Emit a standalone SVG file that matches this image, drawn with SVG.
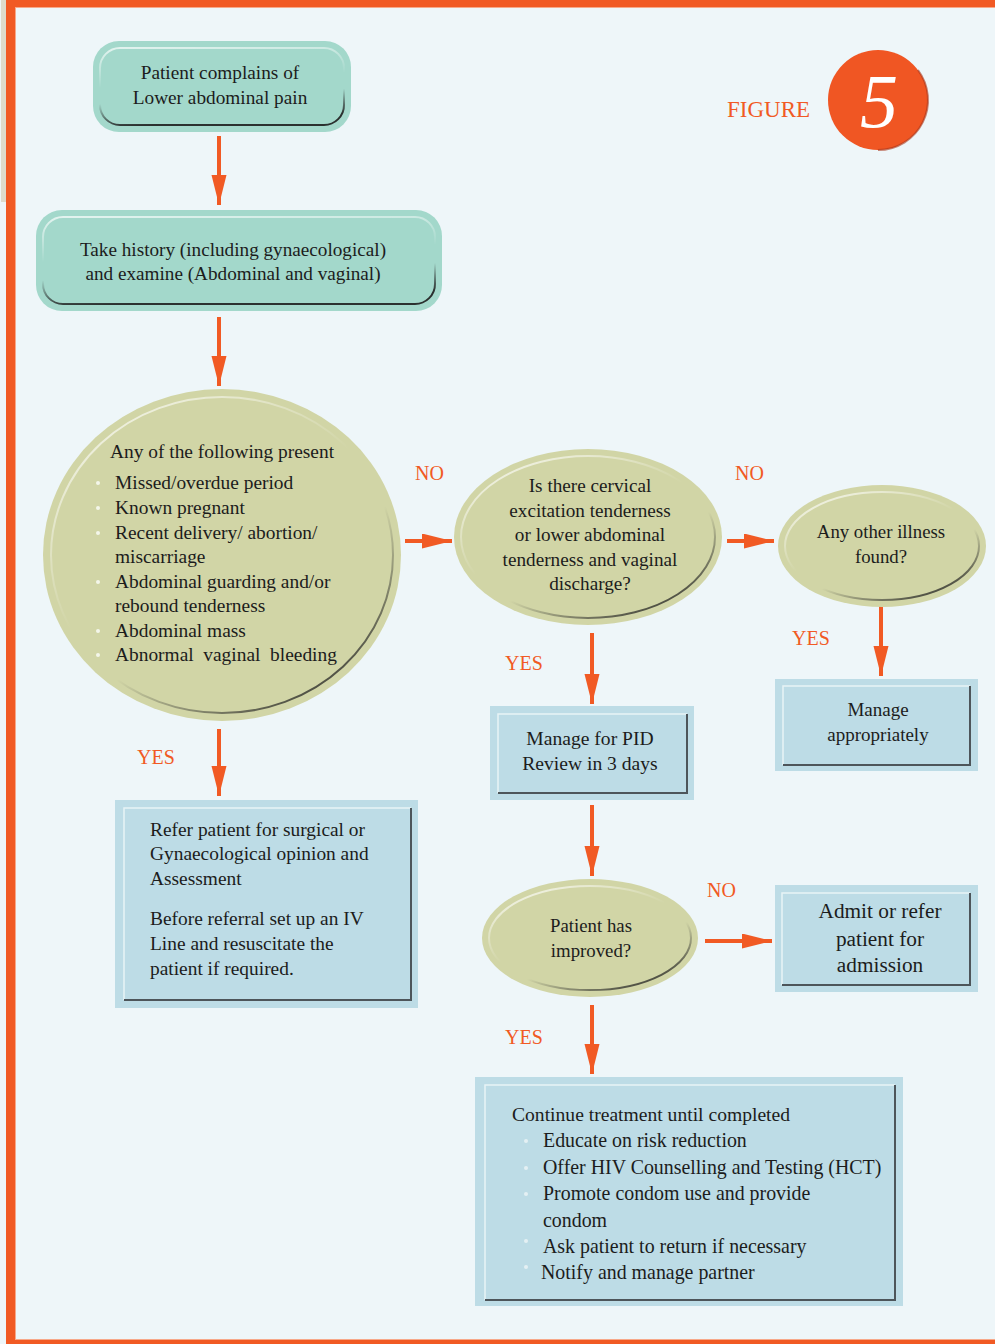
<svg xmlns="http://www.w3.org/2000/svg" width="995" height="1344" viewBox="0 0 995 1344">
  <defs>
    <style>
      .txt { font-family: "Liberation Serif", "Times New Roman", serif; fill: #1c1c1c; }
      .lbl { font-family: "Liberation Serif", "Times New Roman", serif; fill: #f15a24; font-size: 20px; }
      .teal { fill: #a3d8cb; }
      .olive { fill: #d1d5a6; }
      .box { fill: #bddce6; }
      .edge-lt { stroke: #e8f3f6; stroke-width: 1.5; fill: none; }
      .edge-dk { stroke: #4d555a; stroke-width: 2; fill: none; }
      .conn line { stroke: #f15a24; stroke-width: 4; marker-end: url(#head); }
      .dot { fill: #f4f6ea; }
      .dot2 { fill: #e4f0f4; }
      .pre { white-space: pre; }
    </style>
    <linearGradient id="bevel" x1="0.15" y1="0" x2="0.85" y2="1">
      <stop offset="0" stop-color="#ffffff" stop-opacity="0.75"/>
      <stop offset="0.45" stop-color="#ffffff" stop-opacity="0"/>
      <stop offset="0.62" stop-color="#2a2a2a" stop-opacity="0"/>
      <stop offset="1" stop-color="#1e1e1e" stop-opacity="0.95"/>
    </linearGradient>
    <linearGradient id="bevelRect" x1="0" y1="0" x2="0.2" y2="1">
      <stop offset="0" stop-color="#ffffff" stop-opacity="0.7"/>
      <stop offset="0.5" stop-color="#ffffff" stop-opacity="0"/>
      <stop offset="0.7" stop-color="#2a2a2a" stop-opacity="0"/>
      <stop offset="1" stop-color="#1e1e1e" stop-opacity="0.9"/>
    </linearGradient>
    <marker id="head" markerUnits="userSpaceOnUse" markerWidth="32" markerHeight="16" refX="30" refY="7.5" orient="auto">
      <path d="M0,0 L30,7.5 L0,15 z" fill="#f15a24"/>
    </marker>
  </defs>

  <!-- page frame -->
  <rect x="0" y="0" width="995" height="1344" fill="#eef6f9"/>
  <rect x="1" y="0" width="5" height="202" fill="#dedbcb"/>
  <rect x="6" y="0" width="989" height="7" fill="#f15a24"/>
  <rect x="6" y="0" width="9" height="1344" fill="#f15a24"/>
  <rect x="6" y="1340" width="989" height="4" fill="#f15a24"/>
  <line x1="15" y1="7.5" x2="995" y2="7.5" stroke="#f7a98a" stroke-width="1"/>
  <line x1="15.5" y1="7" x2="15.5" y2="1340" stroke="#f7a98a" stroke-width="1"/>
  <line x1="15" y1="1339.5" x2="995" y2="1339.5" stroke="#f7a98a" stroke-width="1"/>

  <!-- title badge -->
  <g id="figure-badge">
    <text x="727" y="117" font-family="Liberation Serif, serif" font-size="23" fill="#f15a24">FIGURE</text>
    <circle cx="878" cy="100" r="50" fill="#f05623"/>
    <path d="M918,70 A50,50 0 0 1 878,150" fill="none" stroke="#a8361a" stroke-width="2" opacity="0.6"/>
    <text x="879" y="127" text-anchor="middle" font-family="Liberation Serif, serif" font-style="italic" font-size="76" fill="#ffffff">5</text>
  </g>

  <!-- connectors -->
  <g id="connectors" class="conn">
    <line x1="219" y1="136" x2="219" y2="205"/>
    <line x1="219" y1="317" x2="219" y2="386"/>
    <line x1="219" y1="729" x2="219" y2="796"/>
    <line x1="405" y1="541" x2="452" y2="541"/>
    <line x1="727" y1="541" x2="774" y2="541"/>
    <line x1="881" y1="605" x2="881" y2="676"/>
    <line x1="592" y1="633" x2="592" y2="704"/>
    <line x1="592" y1="805" x2="592" y2="876"/>
    <line x1="705" y1="941" x2="772" y2="941"/>
    <line x1="592" y1="1005" x2="592" y2="1074"/>
  </g>

  <!-- branch labels -->
  <g id="labels">
    <text class="lbl" x="415" y="480">NO</text>
    <text class="lbl" x="735" y="480">NO</text>
    <text class="lbl" x="792" y="645">YES</text>
    <text class="lbl" x="505" y="670">YES</text>
    <text class="lbl" x="137" y="764">YES</text>
    <text class="lbl" x="707" y="897">NO</text>
    <text class="lbl" x="505" y="1044">YES</text>
  </g>

  <!-- start -->
  <g id="start">
    <rect class="teal" x="93" y="41" width="258" height="91" rx="26"/>
    <rect x="100" y="48" width="244" height="77" rx="20" fill="none" stroke="url(#bevelRect)" stroke-width="2"/>
    <text class="txt" font-size="19.3" text-anchor="middle" x="220" y="79">Patient complains of</text>
    <text class="txt" font-size="19.3" text-anchor="middle" x="220" y="104">Lower abdominal pain</text>
  </g>

  <!-- history -->
  <g id="history">
    <rect class="teal" x="36" y="210" width="406" height="101" rx="26"/>
    <rect x="43" y="217" width="392" height="87" rx="20" fill="none" stroke="url(#bevelRect)" stroke-width="2"/>
    <text class="txt" font-size="19.2" text-anchor="middle" x="233" y="256">Take history (including gynaecological)</text>
    <text class="txt" font-size="19.2" text-anchor="middle" x="233" y="280">and examine (Abdominal and vaginal)</text>
  </g>

  <!-- danger signs -->
  <g id="danger-signs">
    <ellipse class="olive" cx="222" cy="555" rx="179" ry="166"/>
    <ellipse cx="222" cy="555" rx="171" ry="158" fill="none" stroke="url(#bevel)" stroke-width="2"/>
    <text class="txt" font-size="19.4" x="110" y="458">Any of the following present</text>
    <circle class="dot" cx="98" cy="483" r="2"/>
    <circle class="dot" cx="98" cy="508" r="2"/>
    <circle class="dot" cx="98" cy="533" r="2"/>
    <circle class="dot" cx="98" cy="582" r="2"/>
    <circle class="dot" cx="98" cy="631" r="2"/>
    <circle class="dot" cx="98" cy="655" r="2"/>
    <text class="txt" font-size="19.4" x="115" y="489">Missed/overdue period</text>
    <text class="txt" font-size="19.4" x="115" y="514">Known pregnant</text>
    <text class="txt" font-size="19.4" x="115" y="539">Recent delivery/ abortion/</text>
    <text class="txt" font-size="19.4" x="115" y="563">miscarriage</text>
    <text class="txt" font-size="19.4" x="115" y="588">Abdominal guarding and/or</text>
    <text class="txt" font-size="19.4" x="115" y="612">rebound tenderness</text>
    <text class="txt" font-size="19.4" x="115" y="637">Abdominal mass</text>
    <text class="txt pre" font-size="19.4" x="115" y="661">Abnormal  vaginal  bleeding</text>
  </g>

  <!-- referral -->
  <g id="refer">
    <rect class="box" x="115" y="800" width="303" height="208"/>
    <polyline class="edge-lt" points="124,1000 124,808 411,808"/>
    <polyline class="edge-dk" points="124,1000 411,1000 411,808"/>
    <text class="txt" font-size="19.4" x="150" y="836">Refer patient for surgical or</text>
    <text class="txt" font-size="19.4" x="150" y="860">Gynaecological opinion and</text>
    <text class="txt" font-size="19.4" x="150" y="885">Assessment</text>
    <text class="txt" font-size="19.4" x="150" y="925">Before referral set up an IV</text>
    <text class="txt" font-size="19.4" x="150" y="950">Line and resuscitate the</text>
    <text class="txt" font-size="19.4" x="150" y="975">patient if required.</text>
  </g>

  <!-- PID question -->
  <g id="pid-question">
    <ellipse class="olive" cx="588" cy="537" rx="134" ry="88"/>
    <ellipse cx="588" cy="537" rx="127" ry="81" fill="none" stroke="url(#bevel)" stroke-width="2"/>
    <text class="txt" font-size="19.2" text-anchor="middle" x="590" y="492">Is there cervical</text>
    <text class="txt" font-size="19.2" text-anchor="middle" x="590" y="517">excitation tenderness</text>
    <text class="txt" font-size="19.2" text-anchor="middle" x="590" y="541">or lower abdominal</text>
    <text class="txt" font-size="19.2" text-anchor="middle" x="590" y="566">tenderness and vaginal</text>
    <text class="txt" font-size="19.2" text-anchor="middle" x="590" y="590">discharge?</text>
  </g>

  <!-- other illness -->
  <g id="other-illness">
    <ellipse class="olive" cx="882" cy="546" rx="104" ry="61"/>
    <ellipse cx="882" cy="546" rx="97" ry="54" fill="none" stroke="url(#bevel)" stroke-width="2"/>
    <text class="txt" font-size="18.8" text-anchor="middle" x="881" y="538">Any other illness</text>
    <text class="txt" font-size="18.8" text-anchor="middle" x="881" y="563">found?</text>
  </g>

  <!-- manage appropriately -->
  <g id="manage-other">
    <rect class="box" x="775" y="679" width="203" height="92"/>
    <polyline class="edge-lt" points="783,765 783,686 970,686"/>
    <polyline class="edge-dk" points="783,765 970,765 970,686"/>
    <text class="txt" font-size="19" text-anchor="middle" x="878" y="716">Manage</text>
    <text class="txt" font-size="19" text-anchor="middle" x="878" y="741">appropriately</text>
  </g>

  <!-- manage PID -->
  <g id="manage-pid">
    <rect class="box" x="490" y="706" width="204" height="94"/>
    <polyline class="edge-lt" points="498,793 498,714 687,714"/>
    <polyline class="edge-dk" points="498,793 687,793 687,714"/>
    <text class="txt" font-size="19.6" text-anchor="middle" x="590" y="745">Manage for PID</text>
    <text class="txt" font-size="19.6" text-anchor="middle" x="590" y="770">Review in 3 days</text>
  </g>

  <!-- improvement check -->
  <g id="improved">
    <ellipse class="olive" cx="590" cy="938" rx="108" ry="59"/>
    <ellipse cx="590" cy="938" rx="101" ry="52" fill="none" stroke="url(#bevel)" stroke-width="2"/>
    <text class="txt" font-size="18.8" text-anchor="middle" x="591" y="932">Patient has</text>
    <text class="txt" font-size="18.8" text-anchor="middle" x="591" y="957">improved?</text>
  </g>

  <!-- admission -->
  <g id="admit">
    <rect class="box" x="775" y="885" width="203" height="107"/>
    <polyline class="edge-lt" points="782,985 782,893 970,893"/>
    <polyline class="edge-dk" points="782,985 970,985 970,893"/>
    <text class="txt" font-size="21.3" text-anchor="middle" x="880" y="918">Admit or refer</text>
    <text class="txt" font-size="21.3" text-anchor="middle" x="880" y="946">patient for</text>
    <text class="txt" font-size="21.3" text-anchor="middle" x="880" y="972">admission</text>
  </g>

  <!-- follow-up -->
  <g id="continue">
    <rect class="box" x="475" y="1077" width="428" height="229"/>
    <polyline class="edge-lt" points="485,1300 485,1085 895,1085"/>
    <polyline class="edge-dk" points="485,1300 895,1300 895,1085"/>
    <text class="txt" font-size="19.6" x="512" y="1121">Continue treatment until completed</text>
    <circle class="dot2" cx="526" cy="1141" r="2"/>
    <circle class="dot2" cx="526" cy="1168" r="2"/>
    <circle class="dot2" cx="526" cy="1194" r="2"/>
    <circle class="dot2" cx="526" cy="1241" r="2"/>
    <circle class="dot2" cx="526" cy="1267" r="2"/>
    <text class="txt" font-size="19.9" x="543" y="1147">Educate on risk reduction</text>
    <text class="txt" font-size="19.9" x="543" y="1174">Offer HIV Counselling and Testing (HCT)</text>
    <text class="txt" font-size="19.9" x="543" y="1200">Promote condom use and provide</text>
    <text class="txt" font-size="19.9" x="543" y="1227">condom</text>
    <text class="txt" font-size="19.9" x="543" y="1253">Ask patient to return if necessary</text>
    <text class="txt" font-size="19.9" x="541" y="1279">Notify and manage partner</text>
  </g>
</svg>
